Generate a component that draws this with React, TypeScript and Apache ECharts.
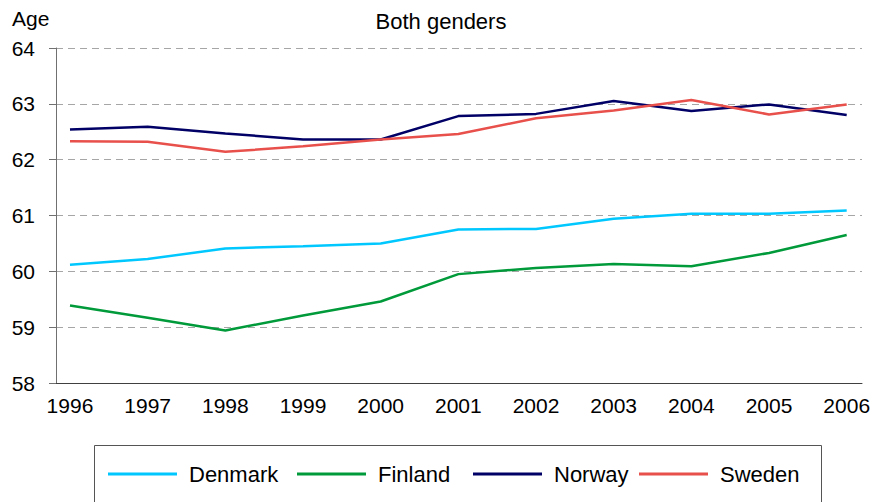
import React, { useEffect, useRef } from "react";
import * as echarts from "echarts";

const years = [1996, 1997, 1998, 1999, 2000, 2001, 2002, 2003, 2004, 2005, 2006];
const denmark = [60.12, 60.22, 60.41, 60.45, 60.5, 60.75, 60.76, 60.94, 61.03, 61.03, 61.09];
const finland = [59.39, 59.17, 58.94, 59.21, 59.46, 59.95, 60.06, 60.13, 60.09, 60.33, 60.65];
const norway = [62.54, 62.59, 62.47, 62.36, 62.36, 62.78, 62.82, 63.05, 62.87, 62.99, 62.8];
const sweden = [62.33, 62.32, 62.14, 62.24, 62.36, 62.46, 62.74, 62.88, 63.07, 62.81, 62.99];
const seriesNames = ["Denmark", "Finland", "Norway", "Sweden"];
const seriesColors = ["#00c8ff", "#009a3a", "#000066", "#e8504c"];
const yTicks = [58, 59, 60, 61, 62, 63, 64];

const FONT = "'Liberation Sans', Arial, sans-serif";

export default function App() {
  const ref = useRef<HTMLDivElement>(null);
  useEffect(() => {
    if (!ref.current) return;
    const chart = echarts.init(ref.current, null, { renderer: "svg" });
    const all = [denmark, finland, norway, sweden];
    const legendLefts = [108, 297, 473, 639];
    chart.setOption({
      animation: false,
      backgroundColor: "#ffffff",
      textStyle: { fontFamily: FONT },
      grid: { left: 56, right: 14, top: 48, bottom: 119, containLabel: false },
      xAxis: {
        type: "value",
        min: 1995.82,
        max: 2006.197,
        axisLine: { show: true, lineStyle: { color: "#404040", width: 1 } },
        axisTick: { show: false },
        splitLine: { show: false },
        axisLabel: {
          customValues: years,
          formatter: (v: number) => String(Math.round(v)),
          fontSize: 21,
          color: "#000",
          margin: 12,
          fontFamily: FONT,
        },
      },
      yAxis: {
        type: "value",
        min: yTicks[0],
        max: yTicks[yTicks.length - 1],
        interval: 1,
        axisLine: { show: true, lineStyle: { color: "#707070", width: 1 } },
        axisTick: { show: true, length: 7, lineStyle: { color: "#707070" } },
        splitLine: { show: true, lineStyle: { color: "#a6a6a6", type: [7, 5], width: 1 } },
        axisLabel: { fontSize: 21, color: "#000", margin: 21, fontFamily: FONT },
      },
      legend: seriesNames.map((n, i) => ({
        data: [n],
        left: legendLefts[i],
        top: 462,
        padding: 0,
        icon: "rect",
        itemWidth: 69,
        itemHeight: 3,
        textStyle: { fontSize: 22, color: "#000", lineHeight: 24, padding: [0, 0, 0, 7], fontFamily: FONT },
      })),
      graphic: [
        {
          type: "rect",
          shape: { x: 94.5, y: 445.5, width: 727, height: 80 },
          style: { fill: "#fff", stroke: "#555", lineWidth: 1 },
          z: -10,
        },
        {
          type: "text",
          x: 441,
          y: 21,
          style: { text: "Both genders", fill: "#000", textAlign: "center", textVerticalAlign: "middle", font: "22px " + FONT },
        },
        {
          type: "text",
          x: 12,
          y: 18,
          style: { text: "Age", fill: "#000", textAlign: "left", textVerticalAlign: "middle", font: "21px " + FONT },
        },
      ],
      series: seriesNames.map((n, i) => ({
        name: n,
        type: "line",
        color: seriesColors[i],
        data: years.map((y, j) => [y, all[i][j]]),
        showSymbol: false,
        symbol: "none",
        lineStyle: { width: 2.5, color: seriesColors[i] },
        itemStyle: { color: seriesColors[i] },
      })),
    });
    return () => chart.dispose();
  }, []);
  return <div ref={ref} style={{ width: 876, height: 502, position: "absolute", left: 0, top: 0 }} />;
}
